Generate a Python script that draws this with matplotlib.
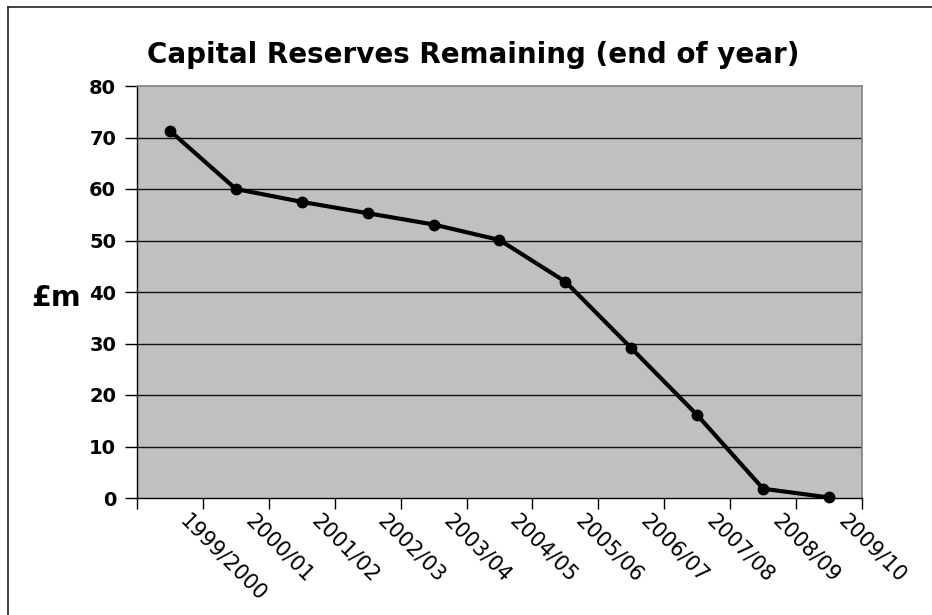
import numpy as np
import matplotlib
matplotlib.use("Agg")
import matplotlib.pyplot as plt
import matplotlib.transforms as mtransforms
from matplotlib.lines import Line2D

# data
years = ["1999/2000", "2000/01", "2001/02", "2002/03", "2003/04", "2004/05",
         "2005/06", "2006/07", "2007/08", "2008/09", "2009/10"]
reserves = [71.3, 60.0, 57.5, 55.3, 53.1, 50.1, 42.0, 29.1, 16.1, 1.8, 0.1]
y_ticks = [0, 10, 20, 30, 40, 50, 60, 70, 80]

# the reference text is wide, DejaVu matches it better than Arial
plt.rcParams['font.family'] = ['DejaVu Sans']

W, H = 932, 615
fig = plt.figure(figsize=(W / 100, H / 100), dpi=100)
ax = fig.add_axes([137 / W, 1 - 498 / H, (862 - 137) / W, (498 - 86) / H])

ax.set_facecolor('#c0c0c0')
x = np.arange(len(years))
ax.plot(x, reserves, color='black', linewidth=3, marker='o', markersize=7.5,
        zorder=3, clip_on=False)

ax.set_xlim(-0.5, len(years) - 0.5)
ax.set_ylim(0, 80)

# y axis
ax.set_yticks(y_ticks)
ax.set_yticklabels([str(v) for v in y_ticks], fontsize=14, fontweight='bold')
ax.tick_params(axis='y', direction='out', length=9, width=1, pad=6, colors='black')
for v in y_ticks[1:-1]:
    ax.axhline(v, color='#111111', linewidth=1, zorder=1)

# x axis: tick marks between categories, labels at category centres
ax.set_xticks(np.arange(-0.5, len(years), 1.0))
ax.set_xticklabels([])
ax.tick_params(axis='x', which='major', direction='out', length=8, width=1)
ax.set_xticks(x, minor=True)
ax.set_xticklabels(years, minor=True, fontsize=15, rotation=-45,
                   ha='left', va='top', rotation_mode='anchor')
ax.tick_params(axis='x', which='minor', length=0, pad=9)
offset = mtransforms.ScaledTranslation(20 / 100, 0, fig.dpi_scale_trans)
for lab in ax.xaxis.get_minorticklabels():
    lab.set_transform(lab.get_transform() + offset)

for side in ['left', 'bottom']:
    ax.spines[side].set_color('black')
    ax.spines[side].set_linewidth(1)
for side in ['top', 'right']:
    ax.spines[side].set_color('#808080')
    ax.spines[side].set_linewidth(1.2)

# titles
fig.text(473 / W, 1 - 63 / H, "Capital Reserves Remaining (end of year)",
         ha='center', va='baseline', fontsize=20, fontweight='bold')
fig.text(31 / W, 1 - 306 / H, "£m", ha='left', va='baseline',
         fontsize=20.5, fontweight='bold')

# chart border (left and top edges visible)
fig.add_artist(Line2D([8 / W, 8 / W], [0, 1 - 7 / H], color='#222222',
                      linewidth=1.2, transform=fig.transFigure))
fig.add_artist(Line2D([8 / W, 1], [1 - 7 / H, 1 - 7 / H], color='#222222',
                      linewidth=1.2, transform=fig.transFigure))

fig.savefig("out.png", dpi=100)
